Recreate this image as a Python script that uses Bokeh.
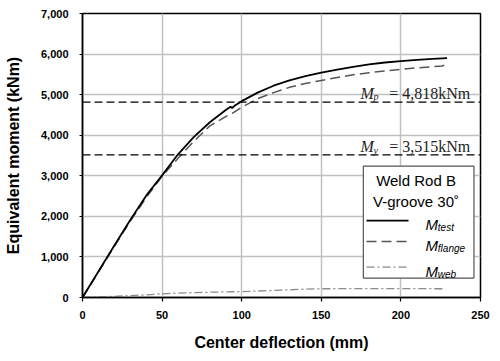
from bokeh.plotting import figure
from bokeh.models import Range1d, FixedTicker, NumeralTickFormatter, Span, Label
from bokeh.embed import file_html
from bokeh.resources import INLINE

# ---------------- data ----------------
x_test = [0, 10, 20, 30, 40, 50, 60, 70, 80, 90, 93, 94, 96, 100, 110, 120,
          130, 140, 150, 160, 170, 180, 190, 200, 210, 220, 229]
m_test = [0, 640, 1280, 1910, 2510, 3010, 3530, 3960, 4320, 4620, 4700, 4670,
          4740, 4840, 5050, 5220, 5350, 5455, 5540, 5615, 5685, 5745, 5792,
          5826, 5855, 5880, 5900]

x_flange = [0, 10, 20, 30, 40, 50, 60, 70, 80, 90, 95, 100, 110, 120, 130,
            140, 150, 160, 170, 180, 190, 200, 210, 220, 226, 229]
m_flange = [0, 630, 1260, 1880, 2460, 2990, 3430, 3850, 4230, 4460, 4560,
            4690, 4900, 5050, 5180, 5275, 5350, 5420, 5490, 5540, 5585, 5625,
            5660, 5690, 5705, 5760]

x_web = [0, 20, 40, 50, 60, 80, 100, 120, 140, 150, 175, 200, 228]
m_web = [0, 30, 65, 90, 110, 130, 145, 175, 205, 215, 220, 220, 215]

mp_value = 4818
my_value = 3515
mp_text = "= 4,818kNm"
my_text = "= 3,515kNm"

x_ticks = [0, 50, 100, 150, 200, 250]
y_ticks = [0, 1000, 2000, 3000, 4000, 5000, 6000, 7000]

x_title = "Center deflection (mm)"
y_title = "Equivalent moment (kNm)"
legend_title = ["Weld Rod B", "V-groove 30˚"]
legend_subs = ["test", "flange", "web"]

# ---------------- figure ----------------
p = figure(width=492, height=353, output_backend="svg", toolbar_location=None,
           x_range=Range1d(0, 250), y_range=Range1d(0, 7000),
           min_border_left=82, min_border_right=12, min_border_top=13,
           min_border_bottom=55)
p.background_fill_color = "white"
p.border_fill_color = "white"
p.outline_line_color = "black"
p.outline_line_width = 1.5
p.outline_line_alpha = 1.0

p.xaxis.ticker = FixedTicker(ticks=x_ticks)
p.yaxis.ticker = FixedTicker(ticks=y_ticks)
p.yaxis.formatter = NumeralTickFormatter(format="0,0")

for ax in (p.xaxis, p.yaxis):
    ax.axis_line_color = "black"
    ax.axis_line_width = 1.5
    ax.major_tick_line_color = "black"
    ax.major_tick_line_width = 1.2
    ax.major_tick_in = 0
    ax.minor_tick_line_color = None
    ax.major_label_text_font = "Liberation Sans"
    ax.major_label_text_font_style = "bold"
    ax.major_label_text_font_size = "11px"
    ax.major_label_text_color = "black"
    ax.axis_label_text_font = "Liberation Sans"
    ax.axis_label_text_font_style = "bold"
    ax.axis_label_text_font_size = "16px"
    ax.axis_label_text_color = "black"

p.xaxis.major_tick_out = 4
p.yaxis.major_tick_out = 3
p.xaxis.major_label_standoff = 9
p.yaxis.major_label_standoff = 11
p.xaxis.axis_label = x_title
p.yaxis.axis_label = y_title
p.xaxis.axis_label_standoff = 12
p.yaxis.axis_label_standoff = 16

p.xgrid.grid_line_color = "#c0c0c0"
p.ygrid.grid_line_color = "#c0c0c0"
p.xgrid.grid_line_width = 1.5
p.ygrid.grid_line_width = 1.5

# reference lines
for v in (mp_value, my_value):
    p.add_layout(Span(location=v, dimension="width", line_color="black",
                      line_width=1.2, line_dash="8 4"))

# curves
p.line(x_web, m_web, line_color="#8a8a8a", line_width=1.3, line_dash="8 3 2 3")
p.line(x_flange, m_flange, line_color="#555555", line_width=1.5, line_dash="10 5")
p.line(x_test, m_test, line_color="black", line_width=1.8)

# Mp / My labels
serif = "Liberation Serif"
def ref_label(yb, ysub, sub, txt):
    p.add_layout(Label(x=174.6, y=yb, text="M", text_font=serif,
                       text_font_style="italic", text_font_size="16px",
                       text_color="#222222", text_baseline="alphabetic"))
    p.add_layout(Label(x=182.8, y=ysub, text=sub, text_font=serif,
                       text_font_style="italic", text_font_size="10px",
                       text_color="#222222", text_baseline="alphabetic"))
    p.add_layout(Label(x=243.6, y=yb, text=txt, text_font=serif,
                       text_font_size="16px", text_color="#222222",
                       text_align="right", text_baseline="alphabetic"))

ref_label(5039, 4958, "p", mp_text)
ref_label(3712, 3619, "y", my_text)

# legend box (drawn as a glyph so sample lines sit on top)
p.quad(left=[176.4], right=[245.9], bottom=[479], top=[3238],
       fill_color="white", line_color="#555555", line_width=1.2)
for t, yb in zip(legend_title, (2877, 2361)):
    p.add_layout(Label(x=209.5, y=yb, text=t, text_font="Liberation Sans",
                       text_font_size="15px", text_color="black",
                       text_align="center", text_baseline="alphabetic"))

sample_y = [1894, 1378, 749]
styles = [("black", 1.8, "solid"), ("#555555", 1.5, "10 5"),
          ("#8a8a8a", 1.3, "8 3 2 3")]
label_base = [1789, 1273, 646]
for yy, (c, w, d), yb, sub in zip(sample_y, styles, label_base, legend_subs):
    p.line([178.4, 204.8], [yy, yy], line_color=c, line_width=w, line_dash=d)
    p.add_layout(Label(x=215.5, y=yb, text="M", text_font="Liberation Sans",
                       text_font_style="italic", text_font_size="15px",
                       text_color="black", text_baseline="alphabetic"))
    p.add_layout(Label(x=223.2, y=yb - 74, text=sub, text_font="Liberation Sans",
                       text_font_style="italic", text_font_size="10px",
                       text_color="black", text_baseline="alphabetic"))

open("out.html", "w").write(file_html(p, INLINE))
